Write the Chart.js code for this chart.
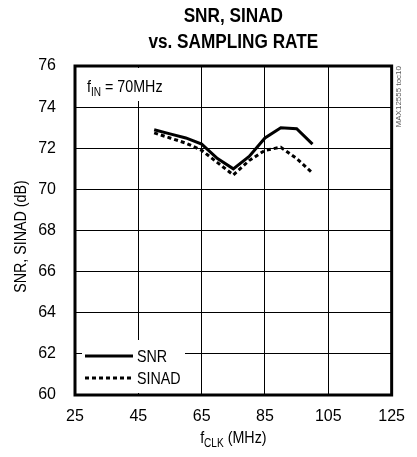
<!DOCTYPE html>
<html><head><meta charset="utf-8">
<script src="https://cdn.jsdelivr.net/npm/chart.js@4/dist/chart.umd.min.js"></script>
<style>html,body{margin:0;padding:0;background:#fff}#wrap{width:417px;height:457px;position:relative}</style>
</head><body><div id="wrap"><canvas id="c" width="417" height="457"></canvas></div>
<script>
const clkMHz = [50, 55, 60, 65, 70, 75, 80, 85, 90, 95, 100];
const snrDb = [72.9, 72.7, 72.5, 72.2, 71.5, 71.0, 71.6, 72.5, 73.0, 72.95, 72.2];
const sinadDb = [72.75, 72.5, 72.25, 71.9, 71.3, 70.7, 71.4, 71.9, 72.05, 71.5, 70.8];
const xTicks = [25, 45, 65, 85, 105, 125];
const yTicks = [60, 62, 64, 66, 68, 70, 72, 74, 76];
const seriesNames = ['SNR', 'SINAD'];
const titleLines = ['SNR, SINAD', 'vs. SAMPLING RATE'];

const FONT = '"Liberation Sans", Arial, sans-serif';
const SQ = 0.84;

function drawSub(ctx, parts, cx, y, align) {
  let w = 0;
  parts.forEach(p => { ctx.font = p[1] + 'px ' + FONT; w += ctx.measureText(p[0]).width; });
  w *= SQ;
  let x = align === 'center' ? cx - w / 2 : cx;
  ctx.save();
  ctx.translate(x, y);
  ctx.scale(SQ, 1);
  ctx.textAlign = 'left'; ctx.textBaseline = 'alphabetic';
  let px = 0;
  parts.forEach(p => { ctx.font = p[1] + 'px ' + FONT; ctx.fillText(p[0], px, p[2]); px += ctx.measureText(p[0]).width; });
  ctx.restore();
}
function sqText(ctx, text, x, y, font, align, baseline, k) {
  ctx.save();
  ctx.translate(x, y); ctx.scale(k, 1);
  ctx.font = font; ctx.textAlign = align; ctx.textBaseline = baseline;
  ctx.fillText(text, 0, 0);
  ctx.restore();
}

const deco = {
  id: 'deco',
  beforeDatasetsDraw(chart) {
    const ctx = chart.ctx, a = chart.chartArea;
    ctx.save();
    ctx.fillStyle = '#fff';
    ctx.fillRect(a.left + 2, a.top + 2, 100, 33);
    ctx.fillRect(a.left + 7, a.bottom - 55, 103, 53);
    ctx.restore();
  },
  afterDraw(chart) {
    const ctx = chart.ctx, a = chart.chartArea;
    ctx.save();
    ctx.strokeStyle = '#000'; ctx.lineWidth = 3;
    ctx.strokeRect(a.left, a.top, a.right - a.left, a.bottom - a.top);
    ctx.fillStyle = '#000';
    const cx = (a.left + a.right) / 2;
    sqText(ctx, titleLines[0], cx, 22, '900 20px ' + FONT, 'center', 'alphabetic', 0.86);
    sqText(ctx, titleLines[1], cx, 48, '900 20px ' + FONT, 'center', 'alphabetic', 0.86);
    drawSub(ctx, [['f', 17, 0], ['IN', 12, 4], [' = 70MHz', 17, 0]], a.left + 12, a.top + 26, 'left');
    drawSub(ctx, [['f', 17, 0], ['CLK', 12, 4], [' (MHz)', 17, 0]], cx, 443, 'center');
    ctx.save();
    ctx.translate(21, (a.top + a.bottom) / 2 + 6);
    ctx.rotate(-Math.PI / 2);
    ctx.scale(SQ, 1);
    ctx.font = '17px ' + FONT; ctx.textAlign = 'center'; ctx.textBaseline = 'middle';
    ctx.fillText('SNR, SINAD (dB)', 0, 0);
    ctx.restore();
    ctx.save();
    ctx.translate(a.right + 7, a.top);
    ctx.rotate(-Math.PI / 2);
    ctx.fillStyle = '#555';
    ctx.font = '8px ' + FONT; ctx.textAlign = 'right'; ctx.textBaseline = 'middle';
    ctx.fillText('MAX12555 toc10', 0, 0);
    ctx.restore();
    const lx = a.left + 10, ly1 = a.bottom - 39, ly2 = a.bottom - 17;
    ctx.strokeStyle = '#000'; ctx.lineWidth = 3;
    ctx.beginPath(); ctx.moveTo(lx, ly1); ctx.lineTo(lx + 48, ly1); ctx.stroke();
    ctx.setLineDash([4, 3]);
    ctx.beginPath(); ctx.moveTo(lx, ly2); ctx.lineTo(lx + 48, ly2); ctx.stroke();
    ctx.setLineDash([]);
    ctx.fillStyle = '#000';
    sqText(ctx, seriesNames[0], lx + 52, ly1 + 1, '17px ' + FONT, 'left', 'middle', SQ);
    sqText(ctx, seriesNames[1], lx + 52, ly2 + 1, '17px ' + FONT, 'left', 'middle', SQ);
    ctx.restore();
  }
};

new Chart(document.getElementById('c'), {
  type: 'line',
  data: {
    datasets: [
      { label: seriesNames[0], data: clkMHz.map((x, i) => ({ x, y: snrDb[i] })), borderColor: '#000', borderWidth: 3, pointRadius: 0, tension: 0, fill: false },
      { label: seriesNames[1], data: clkMHz.map((x, i) => ({ x, y: sinadDb[i] })), borderColor: '#000', borderWidth: 3, borderDash: [4, 3], pointRadius: 0, tension: 0, fill: false }
    ]
  },
  options: {
    responsive: false, animation: false, devicePixelRatio: 1,
    layout: { padding: { top: 66, right: 12, left: 0, bottom: 0 } },
    plugins: { legend: { display: false }, tooltip: { enabled: false }, title: { display: false } },
    scales: {
      x: {
        type: 'linear', min: 25, max: 125,
        afterBuildTicks: s => { s.ticks = xTicks.map(v => ({ value: v })); },
        afterFit: s => { s.height = 62; },
        grid: { color: '#000', lineWidth: 1, drawTicks: false },
        border: { display: false },
        ticks: { color: '#000', font: { family: FONT, size: 16 }, padding: 12, maxRotation: 0 }
      },
      y: {
        min: 60, max: 76,
        afterBuildTicks: s => { s.ticks = yTicks.map(v => ({ value: v })); },
        afterFit: s => { s.width = 75; },
        grid: { color: '#000', lineWidth: 1, drawTicks: false },
        border: { display: false },
        ticks: { color: '#000', font: { family: FONT, size: 16 }, padding: 19 }
      }
    }
  },
  plugins: [deco]
});
</script></body></html>
